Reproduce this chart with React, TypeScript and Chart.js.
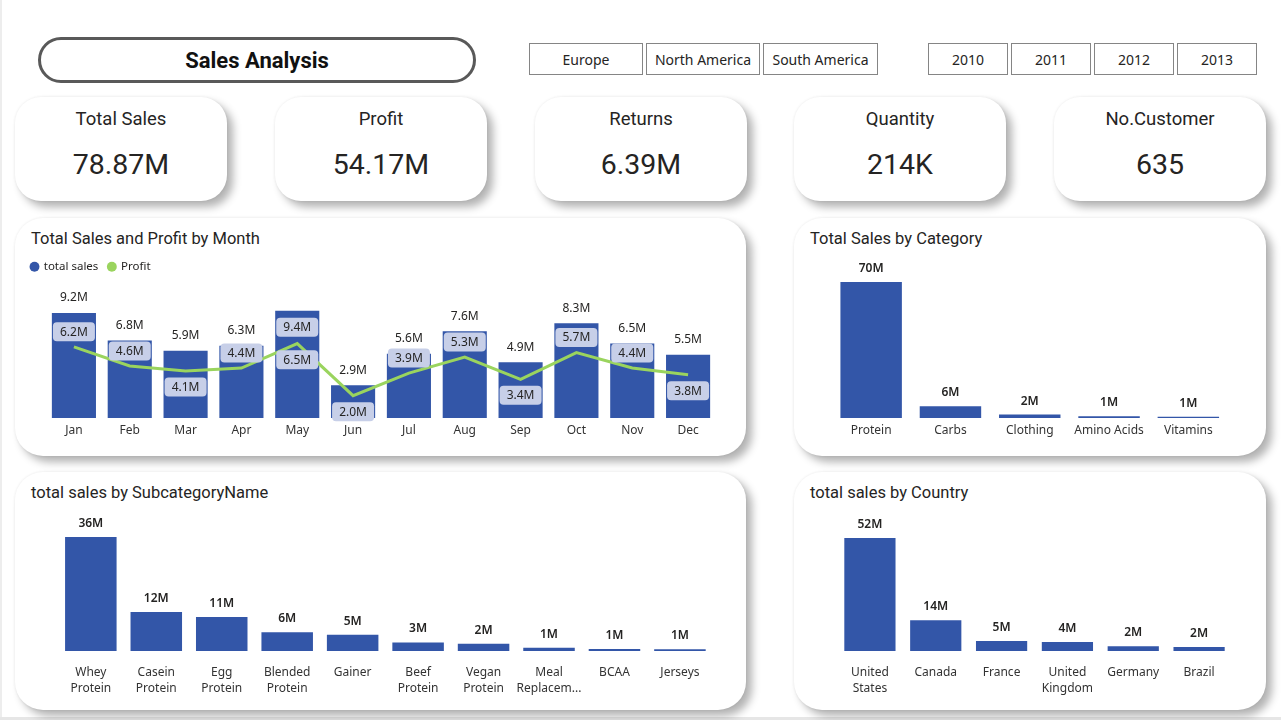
import React, { useEffect, useRef } from "react";
import { Chart, registerables } from "chart.js";

Chart.register(...registerables);

// ---------------- data ----------------
const regions = ["Europe", "North America", "South America"];
const years = ["2010", "2011", "2012", "2013"];

const kpiLabels = ["Total Sales", "Profit", "Returns", "Quantity", "No.Customer"];
const kpiValues = ["78.87M", "54.17M", "6.39M", "214K", "635"];

const months = ["Jan", "Feb", "Mar", "Apr", "May", "Jun", "Jul", "Aug", "Sep", "Oct", "Nov", "Dec"];
const monthlySales = [9.2, 6.8, 5.9, 6.34, 9.41, 2.87, 5.64, 7.6, 4.88, 8.3, 6.54, 5.54];
const monthlyProfit = [6.24, 4.56, 4.12, 4.38, 6.52, 1.96, 3.94, 5.34, 3.39, 5.74, 4.38, 3.8];

const categories = ["Protein", "Carbs", "Clothing", "Amino Acids", "Vitamins"];
const categorySales = [70, 6.0, 1.75, 0.87, 0.7];

const subcategories = [
  ["Whey", "Protein"],
  ["Casein", "Protein"],
  ["Egg", "Protein"],
  ["Blended", "Protein"],
  "Gainer",
  ["Beef", "Protein"],
  ["Vegan", "Protein"],
  ["Meal", "Replacem..."],
  "BCAA",
  "Jerseys",
];
const subcategorySales = [36, 12.3, 10.7, 5.9, 5.1, 2.7, 2.3, 1.05, 0.63, 0.54];

const countries = [["United", "States"], "Canada", "France", ["United", "Kingdom"], "Germany", "Brazil"];
const countrySales = [52, 14.1, 4.6, 4.1, 2.2, 1.8];

// label placement style for the profit labels (Power BI auto-placement)
const profitLabelPlacement = [
  "above", "above", "below", "above", "below", "below",
  "above", "above", "below", "above", "above", "below",
];

// ---------------- styles ----------------
const BAR_COLOR = "#3356A8";
const LINE_COLOR = "#9AD45E";
const LABEL_BG = "#C7CFE8";
const TEXT = "#252423";
const SEGOE = '"Noto Sans", "Open Sans", sans-serif';
const DIN = 'Roboto, "Noto Sans", sans-serif';

const hiddenY = (max: number, width: number) => ({
  min: 0,
  max,
  display: true,
  grid: { display: false, drawTicks: false },
  border: { display: false },
  ticks: { display: false },
  afterFit: (s: any) => {
    s.width = width;
  },
});

const catX = (padding: number, lineHeightPx: number) => ({
  grid: { display: false, drawTicks: false },
  border: { display: false },
  ticks: {
    color: "#333333",
    font: { family: SEGOE, size: 12, lineHeight: lineHeightPx / 12 },
    padding,
    autoSkip: false,
    maxRotation: 0,
    minRotation: 0,
  },
});

const valueLabels = {
  id: "valueLabels",
  afterDatasetsDraw(chart: any) {
    const { ctx } = chart;
    const meta = chart.getDatasetMeta(0);
    const data = chart.data.datasets[0].data as number[];
    ctx.save();
    ctx.font = `600 12px ${SEGOE}`;
    ctx.fillStyle = TEXT;
    ctx.textAlign = "center";
    ctx.textBaseline = "middle";
    meta.data.forEach((bar: any, i: number) => {
      ctx.fillText(Math.round(data[i]) + "M", bar.x, bar.y - 13.5);
    });
    ctx.restore();
  },
};

const monthlyLabels = {
  id: "monthlyLabels",
  afterDatasetsDraw(chart: any) {
    const { ctx } = chart;
    const bars = chart.getDatasetMeta(0).data;
    const pts = chart.getDatasetMeta(1).data;
    const sales = chart.data.datasets[0].data as number[];
    const profit = chart.data.datasets[1].data as number[];
    const maxIdx = sales.indexOf(Math.max(...sales));
    ctx.save();
    ctx.font = `12px ${SEGOE}`;
    ctx.textAlign = "center";
    ctx.textBaseline = "middle";
    const box = (x: number, y: number, text: string) => {
      ctx.fillStyle = LABEL_BG;
      ctx.beginPath();
      ctx.roundRect(x - 21, y - 9.5, 42, 19, 4);
      ctx.fill();
      ctx.fillStyle = TEXT;
      ctx.fillText(text, x, y + 0.5);
    };
    bars.forEach((b: any, i: number) => {
      const t = sales[i].toFixed(1) + "M";
      if (i === maxIdx) box(b.x, b.y + 16.5, t);
      else {
        ctx.fillStyle = TEXT;
        ctx.fillText(t, b.x, b.y - 15);
      }
    });
    pts.forEach((p: any, i: number) => {
      const below = profitLabelPlacement[i] === "below";
      box(p.x, below ? p.y + 16 : p.y - 15, profit[i].toFixed(1) + "M");
    });
    ctx.restore();
  },
};

function simpleBar(labels: any[], values: number[], barPct: number, yMax: number, yWidth: number, tickPad: number, lineH: number) {
  return {
    type: "bar",
    data: {
      labels,
      datasets: [
        { data: values, backgroundColor: BAR_COLOR, categoryPercentage: 1, barPercentage: barPct },
      ],
    },
    options: {
      responsive: false,
      animation: false,
      layout: { padding: { top: 10, left: 0, right: 0, bottom: 0 } },
      plugins: { legend: { display: false }, tooltip: { enabled: false } },
      scales: { x: catX(tickPad, lineH), y: hiddenY(yMax, yWidth) },
    },
    plugins: [valueLabels],
  };
}

function monthlyConfig() {
  return {
    type: "bar",
    data: {
      labels: months,
      datasets: [
        {
          type: "bar",
          label: "total sales",
          data: monthlySales,
          backgroundColor: BAR_COLOR,
          categoryPercentage: 1,
          barPercentage: 0.79,
          order: 2,
        },
        {
          type: "line",
          label: "Profit",
          data: monthlyProfit,
          borderColor: LINE_COLOR,
          backgroundColor: LINE_COLOR,
          borderWidth: 3,
          pointRadius: 0,
          tension: 0,
          order: 1,
        },
      ],
    },
    options: {
      responsive: false,
      animation: false,
      layout: { padding: 0 },
      plugins: {
        tooltip: { enabled: false },
        legend: {
          display: true,
          position: "top",
          align: "start",
          labels: {
            usePointStyle: true,
            pointStyle: "circle",
            boxWidth: 7,
            boxHeight: 7,
            padding: 10,
            color: TEXT,
            font: { family: SEGOE, size: 11.5 },
            sort: (a: any, b: any) => a.datasetIndex - b.datasetIndex,
            generateLabels: (chart: any) =>
              (Chart.defaults.plugins.legend.labels.generateLabels as any)(chart).map((l: any) => ({
                ...l,
                lineWidth: 0,
              })),
          },
        },
      },
      scales: { x: catX(5, 15), y: hiddenY(11.88, 25) },
    },
    plugins: [monthlyLabels],
  };
}

function ChartCanvas({ left, top, width, height, build }: any) {
  const ref = useRef<HTMLCanvasElement>(null);
  useEffect(() => {
    const chart = new Chart(ref.current as HTMLCanvasElement, build());
    return () => chart.destroy();
  }, []);
  return (
    <canvas
      ref={ref}
      width={width}
      height={height}
      style={{ position: "absolute", left, top, width, height }}
    />
  );
}

const cardShadow = "6px 6px 9px rgba(0,0,0,0.30), 0 0 3px rgba(0,0,0,0.08)";

function Card({ left, top, width, height, radius }: any) {
  return (
    <div
      style={{
        position: "absolute",
        left,
        top,
        width,
        height,
        background: "#fff",
        borderRadius: radius,
        boxShadow: cardShadow,
      }}
    />
  );
}

function Title({ left, cy, text }: any) {
  return (
    <div
      style={{
        position: "absolute",
        left,
        top: cy - 9,
        height: 20,
        lineHeight: "20px",
        fontFamily: DIN,
        fontSize: 16.5,
        color: TEXT,
        whiteSpace: "nowrap",
      }}
    >
      {text}
    </div>
  );
}

const kpiLefts = [15, 275, 535, 794, 1054];
const regionBoxes = [
  [529, 114],
  [646, 114],
  [763, 115],
];
const yearBoxes = [
  [928, 80],
  [1011, 80],
  [1094, 80],
  [1177, 80],
];

function SlicerBox({ left, width, text }: any) {
  return (
    <div
      style={{
        position: "absolute",
        left,
        top: 43,
        width,
        height: 32,
        boxSizing: "border-box",
        border: "1.5px solid #858585",
        background: "#fff",
        fontFamily: SEGOE,
        fontSize: 14,
        color: TEXT,
        display: "flex",
        alignItems: "center",
        justifyContent: "center",
        whiteSpace: "nowrap",
      }}
    >
      {text}
    </div>
  );
}

export default function App() {
  return (
    <div
      style={{
        position: "absolute",
        left: 0,
        top: 0,
        width: 1281,
        height: 720,
        background: "#fff",
        overflow: "hidden",
      }}
    >
      <div style={{ position: "absolute", left: 0, top: 0, width: 2, height: 720, background: "#ededed" }} />
      <div style={{ position: "absolute", left: 0, top: 717, width: 1281, height: 3, background: "#e6e6e6" }} />

      {/* Title pill */}
      <div
        style={{
          position: "absolute",
          left: 38,
          top: 37,
          width: 438,
          height: 46,
          boxSizing: "border-box",
          border: "3px solid #595959",
          borderRadius: 23,
          display: "flex",
          alignItems: "center",
          justifyContent: "center",
          fontFamily: DIN,
          fontWeight: 700,
          fontSize: 22,
          color: "#111",
        }}
      >
        Sales Analysis
      </div>

      {regions.map((r, i) => (
        <SlicerBox key={r} left={regionBoxes[i][0]} width={regionBoxes[i][1]} text={r} />
      ))}
      {years.map((y, i) => (
        <SlicerBox key={y} left={yearBoxes[i][0]} width={yearBoxes[i][1]} text={y} />
      ))}

      {/* KPI cards */}
      {kpiLabels.map((label, i) => (
        <React.Fragment key={label}>
          <Card left={kpiLefts[i]} top={97} width={212} height={104} radius={26} />
          <div
            style={{
              position: "absolute",
              left: kpiLefts[i],
              width: 212,
              top: 107,
              height: 24,
              lineHeight: "24px",
              textAlign: "center",
              fontFamily: DIN,
              fontSize: 18.5,
              color: TEXT,
            }}
          >
            {label}
          </div>
          <div
            style={{
              position: "absolute",
              left: kpiLefts[i],
              width: 212,
              top: 148,
              height: 34,
              lineHeight: "34px",
              textAlign: "center",
              fontFamily: DIN,
              fontSize: 28.5,
              color: TEXT,
            }}
          >
            {kpiValues[i]}
          </div>
        </React.Fragment>
      ))}

      {/* Chart cards */}
      <Card left={15} top={218} width={731} height={238} radius={28} />
      <Card left={794} top={218} width={472} height={238} radius={28} />
      <Card left={15} top={472} width={731} height={238} radius={28} />
      <Card left={794} top={472} width={472} height={238} radius={28} />

      <Title left={31} cy={238} text="Total Sales and Profit by Month" />
      <Title left={810} cy={238} text="Total Sales by Category" />
      <Title left={31} cy={492} text="total sales by SubcategoryName" />
      <Title left={810} cy={492} text="total sales by Country" />

      <ChartCanvas left={21} top={251} width={695} height={192} build={monthlyConfig} />
      <ChartCanvas
        left={820}
        top={250}
        width={408}
        height={194}
        build={() => simpleBar(categories, categorySales, 0.775, 81.32, 11.5, 5.5, 15)}
      />
      <ChartCanvas
        left={40}
        top={505}
        width={673}
        height={205}
        build={() => simpleBar(subcategories, subcategorySales, 0.787, 42.94, 18.1, 13.5, 16)}
      />
      <ChartCanvas
        left={820}
        top={505}
        width={412}
        height={205}
        build={() => simpleBar(countries, countrySales, 0.778, 62.59, 17, 13.5, 16)}
      />
    </div>
  );
}
